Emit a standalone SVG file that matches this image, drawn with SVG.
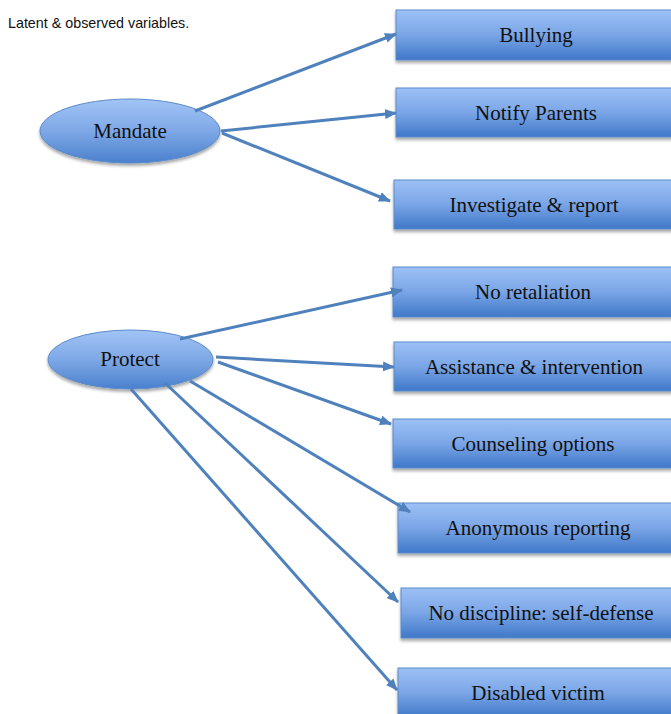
<svg xmlns="http://www.w3.org/2000/svg" width="671" height="714" viewBox="0 0 671 714">
<defs>
<linearGradient id="gBox" x1="0" y1="0" x2="0" y2="1">
<stop offset="0" stop-color="#9dc1f6"/>
<stop offset="0.5" stop-color="#7aa5e6"/>
<stop offset="1" stop-color="#3f78c9"/>
</linearGradient>
<linearGradient id="gEll" x1="0" y1="0" x2="0" y2="1">
<stop offset="0" stop-color="#a2c4f6"/>
<stop offset="0.5" stop-color="#7ea8e6"/>
<stop offset="1" stop-color="#4a80cd"/>
</linearGradient>
<filter id="sh" x="-10%" y="-20%" width="130%" height="160%">
<feDropShadow dx="0" dy="2.5" stdDeviation="1.5" flood-color="#000" flood-opacity="0.35"/>
</filter>
<marker id="ah" markerUnits="userSpaceOnUse" markerWidth="12" markerHeight="10" refX="11" refY="5" orient="auto">
<path d="M0,0 L12,5 L0,10 z" fill="#4f81bd"/>
</marker>
<style>
.box{fill:url(#gBox);stroke:#5b8bc9;stroke-width:1;filter:url(#sh)}
.ell{fill:url(#gEll);stroke:#5b8bc9;stroke-width:1;filter:url(#sh)}
.t{font-family:"Liberation Serif","Times New Roman",serif;font-size:21px;fill:#111;text-anchor:middle}
.c{stroke:#4f81bd;stroke-width:3;fill:none;marker-end:url(#ah)}
.title{font-family:"Liberation Sans",Arial,sans-serif;font-size:14.3px;fill:#111}
</style>
</defs>
<text class="title" x="8" y="28">Latent &amp; observed variables.</text>
<g id="mandate"><ellipse class="ell" cx="130" cy="131" rx="90" ry="32"/><text class="t" x="130" y="138">Mandate</text></g>
<g id="protect"><ellipse class="ell" cx="130.5" cy="359.5" rx="82.5" ry="29.5"/><text class="t" x="130" y="366">Protect</text></g>
<g id="bullying"><rect class="box" x="396" y="10" width="280" height="50"/><text class="t" x="536" y="42">Bullying</text></g>
<g id="notify"><rect class="box" x="396" y="88" width="280" height="49"/><text class="t" x="536" y="120">Notify Parents</text></g>
<g id="investigate"><rect class="box" x="394" y="180" width="280" height="49"/><text class="t" x="534" y="212">Investigate &amp; report</text></g>
<g id="noretaliation"><rect class="box" x="393" y="267" width="280" height="50"/><text class="t" x="533" y="299">No retaliation</text></g>
<g id="assistance"><rect class="box" x="394" y="342" width="280" height="49"/><text class="t" x="534" y="374">Assistance &amp; intervention</text></g>
<g id="counseling"><rect class="box" x="393" y="419" width="280" height="49"/><text class="t" x="533" y="451">Counseling options</text></g>
<g id="anonymous"><rect class="box" x="398" y="503" width="280" height="50"/><text class="t" x="538" y="535">Anonymous reporting</text></g>
<g id="nodiscipline"><rect class="box" x="401" y="588" width="280" height="50"/><text class="t" x="541" y="620">No discipline: self-defense</text></g>
<g id="disabled"><rect class="box" x="398" y="668" width="280" height="50"/><text class="t" x="538" y="700">Disabled victim</text></g>
<g id="connectors">
<line class="c" x1="195" y1="111" x2="396" y2="34"/>
<line class="c" x1="221" y1="131" x2="396" y2="113"/>
<line class="c" x1="222" y1="133" x2="390" y2="201"/>
<line class="c" x1="180" y1="339" x2="402" y2="290"/>
<line class="c" x1="216" y1="357" x2="394" y2="367"/>
<line class="c" x1="218" y1="362" x2="391" y2="424"/>
<line class="c" x1="190" y1="381" x2="410" y2="512"/>
<line class="c" x1="165" y1="383" x2="398" y2="602"/>
<line class="c" x1="131" y1="389" x2="397" y2="690"/>
</g>
</svg>
